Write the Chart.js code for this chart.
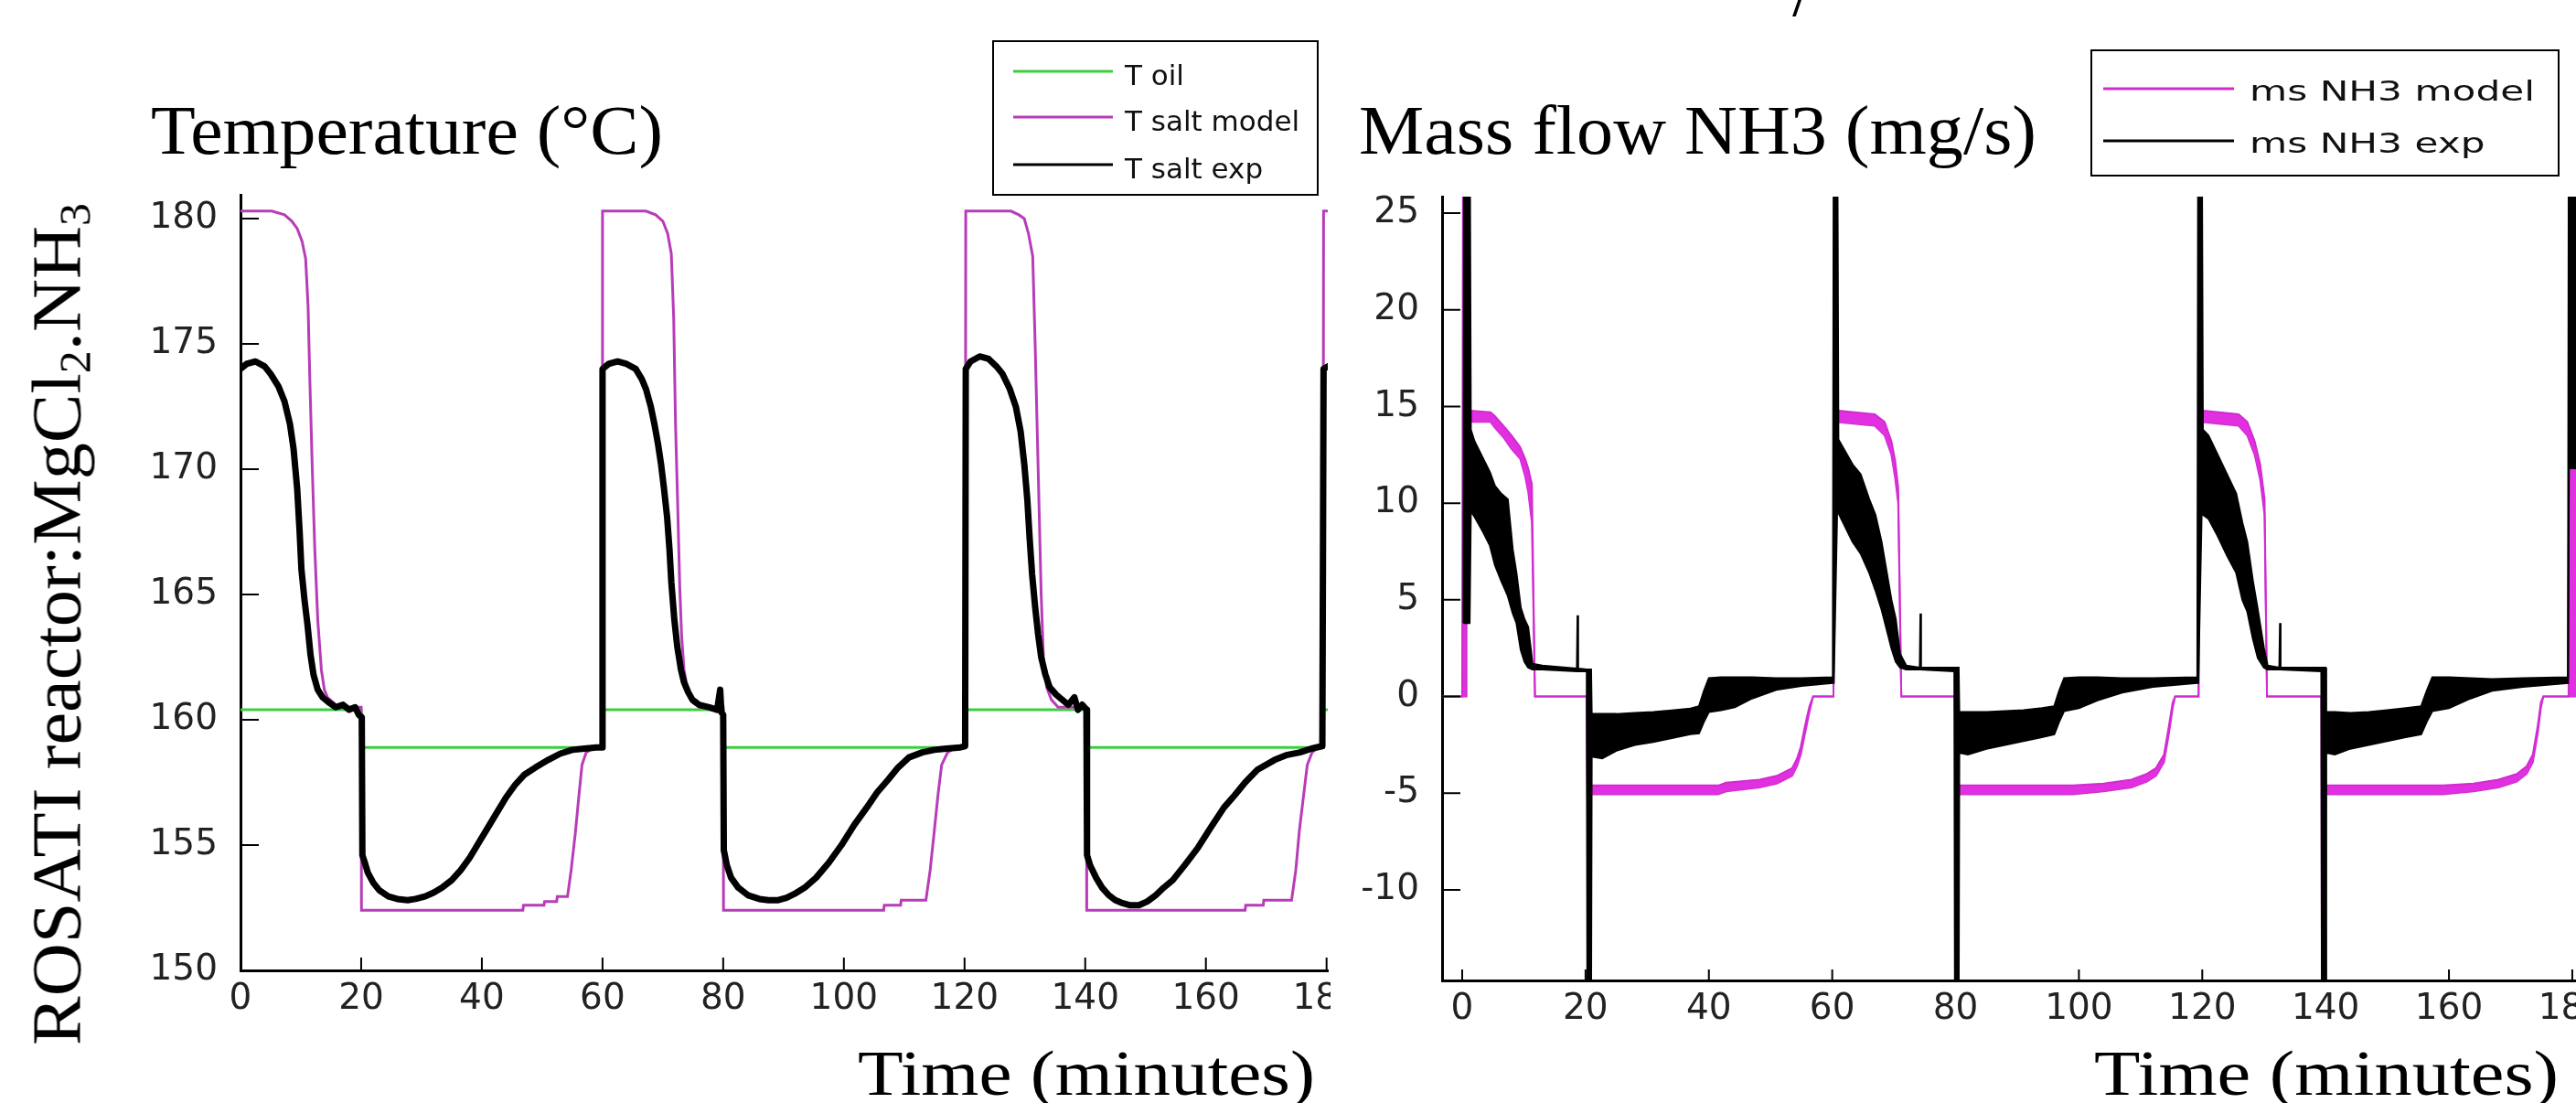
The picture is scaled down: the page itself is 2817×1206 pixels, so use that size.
<!DOCTYPE html>
<html><head><meta charset="utf-8">
<script src="https://cdn.jsdelivr.net/npm/chart.js@4/dist/chart.umd.min.js"></script>
<style>
html,body{margin:0;padding:0;background:#fff;}
body{width:2817px;height:1206px;overflow:hidden;position:relative;}
#w1{position:absolute;left:0;top:0;width:1500px;height:1206px;}
#w2{position:absolute;left:1455px;top:0;width:1410px;height:1206px;background:#fff;}
.lbl{position:absolute;white-space:nowrap;font-family:'Liberation Serif',serif;color:#000;line-height:1;transform-origin:0 0;z-index:5;}
.sb{font-size:0.62em;position:relative;top:0.22em;}
</style></head><body>
<div id="w1"><canvas id="c1"></canvas></div>
<div id="w2"><canvas id="c2"></canvas></div>
<script>
// ---------- Temperature panel (minutes, °C) ----------
const tempXTicks = [0,20,40,60,80,100,120,140,160,180];
const tempYTicks = [150,155,160,165,170,175,180];
const oilT = [0,20,20,60,60,80,80,120,120,140,140,179.5,179.5,181];
const oilV = [160.4,160.4,158.9,158.9,160.4,160.4,158.9,158.9,160.4,160.4,158.9,158.9,160.4,160.4];
const saltModelT = [0,5.2,7.3,8.5,9.4,10.2,10.8,11.2,11.5,11.9,12.3,12.8,13.4,13.9,14.4,15.8,17,20,
 20.05,46.8,46.9,50.3,50.4,52.4,52.5,54.2,54.8,55.5,56.1,56.6,57.3,58.7,59.9,
 60,67.2,68.8,70,70.8,71.4,71.8,72.1,72.5,72.8,73.1,73.5,74.1,74.9,76,80,
 80.05,106.6,106.7,109.4,109.5,113.6,114.3,115,115.6,116.2,117.2,118.5,120.1,
 120.2,127.7,129,129.9,130.6,131.3,131.7,132,132.4,132.7,133.1,133.6,134.4,135.5,140.2,
 140.25,166.5,166.6,169.5,169.6,174.2,174.9,175.5,176.2,176.8,177.6,178.6,179.4,179.5,181];
const saltModelV = [180.3,180.3,180.15,179.9,179.6,179.1,178.4,176.5,173.5,170,166.9,164,162,161.2,160.9,160.6,160.5,160.5,
 152.4,152.4,152.6,152.6,152.75,152.75,152.95,152.95,154,155.5,157,158.2,158.7,158.9,158.9,
 180.3,180.3,180.15,179.9,179.4,178.6,176,171.8,168.2,165.3,163.4,162,161.2,160.7,160.5,160.5,
 152.4,152.4,152.6,152.6,152.8,152.8,154,155.6,157,158.2,158.7,158.9,158.9,
 180.3,180.3,180.15,180,179.4,178.5,175,172,168,165,162.3,161.3,160.8,160.5,160.5,
 152.4,152.4,152.6,152.6,152.8,152.8,154,155.6,157,158.2,158.7,158.9,158.9,180.3,180.3];
const saltExpT = [0,1,2.5,4,5,6.3,7.3,8.2,8.8,9.4,9.8,10.1,10.6,11.1,11.6,12.1,12.8,13.6,14.6,15.8,17,18,19,19.6,20.1,
 20.2,20.6,21.1,22,23,24.5,26,27.7,29,30.6,32,33.4,35,36.5,38,39.5,41,42.5,44,45.5,47,48.9,51,53,55,57,59,59.9,
 60,61,62.5,64,65.5,66.5,67.2,68,68.6,69.2,69.7,70.2,70.7,71.1,71.4,71.9,72.4,73,73.5,74.2,74.9,76,77.7,79,79.5,79.7,80,
 80.1,80.6,81.3,82.5,84.1,86,87.5,89,90.5,91.8,93.5,95.4,97.5,99.6,101.7,103.8,105.5,107.3,109,110.8,113,115,117,119.3,120.1,
 120.2,121,122.5,124,125.3,126.3,127.5,128.5,129.3,129.9,130.4,130.8,131.2,131.7,132.2,132.7,133.4,134.1,135.2,136.2,137.2,138.2,138.8,139.5,140.2,
 140.3,140.8,141.8,142.8,143.9,145,146,147.5,148.9,150.3,151.7,153,154.5,156.5,158.7,160.8,163,164.8,166.5,168.5,171.4,173.5,175.6,177.5,179.3,179.5,181];
const saltExpV = [174.0,174.2,174.3,174.1,173.8,173.3,172.7,171.8,170.8,169.2,167.5,166.0,164.8,163.8,162.6,161.8,161.2,160.9,160.7,160.5,160.6,160.4,160.5,160.2,160.1,
 154.6,154.3,153.9,153.5,153.2,152.95,152.85,152.8,152.85,152.95,153.1,153.3,153.6,154.0,154.5,155.1,155.7,156.3,156.9,157.4,157.8,158.1,158.4,158.65,158.8,158.85,158.9,158.9,
 174.0,174.2,174.3,174.2,174.0,173.6,173.2,172.5,171.8,171.0,170.2,169.2,168.1,166.8,165.5,164.0,162.9,162.0,161.5,161.1,160.8,160.6,160.5,160.4,161.2,160.3,160.2,
 154.8,154.2,153.7,153.3,153.0,152.85,152.8,152.8,152.9,153.05,153.3,153.7,154.3,155.0,155.8,156.5,157.1,157.6,158.1,158.5,158.7,158.8,158.85,158.9,158.95,
 174.0,174.3,174.5,174.4,174.1,173.8,173.2,172.5,171.5,170.2,168.8,167.2,165.8,164.5,163.4,162.5,161.8,161.3,161.0,160.8,160.6,160.9,160.4,160.6,160.4,
 154.6,154.2,153.7,153.3,153.0,152.8,152.7,152.6,152.6,152.75,153.0,153.3,153.6,154.2,154.9,155.7,156.5,157.0,157.5,158.0,158.4,158.6,158.7,158.85,158.95,174.0,174.2];

// ---------- Mass flow panel (minutes, mg/s) ----------
const flowXTicks = [0,20,40,60,80,100,120,140,160,180];
const flowYTicks = [-10,-5,0,5,10,15,20,25];
const flowModelT  = [-3.5,0,0.15,0.6,0.7,4.6,5.3,6.7,8,9.4,10.2,10.7,11.3,11.8,20.2,20.3,41.5,42.8,48.2,51,53.5,54.3,54.9,55.6,56.3,56.9,60.2,
 60.4,66.9,68.5,69.6,70.2,70.7,71.2,79.9,80,99,104,108.5,111,112.5,113.8,114.6,115.2,115.6,119.4,
 119.6,125.9,127.3,128.5,129.4,130.1,130.5,139.3,139.4,139.9,140,159,164,168,171,172.6,173.6,174.4,174.9,175.3,179.3,179.4,181];
const flowModelHi = [0,0,32,32,14.8,14.7,14.5,14.0,13.5,12.9,12.3,11.8,11.0,0,0,-4.6,-4.6,-4.45,-4.3,-4.1,-3.7,-3.2,-2.6,-1.5,-0.5,0,0,
 14.8,14.6,14.2,13.2,12.2,10.8,0,0,-4.6,-4.6,-4.5,-4.3,-4.0,-3.7,-3.0,-1.5,-0.3,0,0,
 14.8,14.6,14.2,13.2,12.0,10.2,0,0,0,0,-4.6,-4.6,-4.5,-4.3,-4.0,-3.6,-3.0,-1.5,-0.3,0,0,32,32];
const flowModelLo = [0,0,0,0,14.2,14.2,13.9,13.4,12.8,12.3,11.4,10.6,9.0,0,0,-5.05,-5.05,-4.9,-4.7,-4.5,-4.1,-3.6,-3.0,-1.9,-0.8,0,0,
 14.2,14.0,13.5,12.5,11.3,10.0,0,0,-5.05,-5.05,-4.9,-4.7,-4.4,-4.1,-3.4,-1.9,-0.6,0,0,
 14.2,14.0,13.5,12.5,11.2,9.4,0,0,-16,-16,-5.05,-5.05,-4.9,-4.7,-4.4,-4.0,-3.4,-1.9,-0.6,0,0,0,0];
const flowExpT  = [0.2,0.3,1.2,1.4,2,3.4,4.5,5.3,6.3,7.4,8.2,8.8,9.5,10.1,10.7,11.4,13,18.6,18.7,18.8,20.2,20.3,20.9,
 21,22.7,25,28,31,34,37,38.4,39.2,40,42,44.2,47,50.9,55,60.1,
 60.25,60.8,61,63.3,64.6,66,67,68,68.8,69.6,70.3,71,72,74.2,74.3,74.4,79.8,79.9,80.5,
 80.6,82,85,88,91,94,96,96.8,97.6,100,103,107,112,119.2,
 119.35,119.9,120.1,121,122.5,124,125.5,126.5,127.3,128.2,129,130,130.6,132.5,132.6,132.7,139.3,139.4,140,
 140.1,141.5,144,147,150,153,155.5,156.4,157.3,160,163.5,167,172,179.3,179.45,181];
const flowExpHi = [3.8,32,32,13.8,13.2,12.3,11.6,10.9,10.5,10.2,7.6,6.4,4.6,4.0,3.6,1.7,1.6,1.45,4.2,1.45,1.4,1.4,1.4,
 -0.9,-0.9,-0.9,-0.85,-0.8,-0.72,-0.62,-0.5,0.3,0.95,1.0,1.0,1.0,0.95,0.95,1.0,
 32,32,13.3,12.0,11.5,10.2,9.4,8.0,6.5,5.0,4.0,2.2,1.6,1.5,4.3,1.5,1.5,1.5,1.5,
 -0.8,-0.8,-0.8,-0.75,-0.7,-0.6,-0.5,0.3,0.95,1.0,1.0,0.95,0.95,1.0,
 32,32,13.8,13.5,12.5,11.5,10.5,9.0,8.0,6.0,4.5,2.5,1.6,1.5,3.8,1.5,1.5,1.5,1.5,
 -0.8,-0.8,-0.85,-0.8,-0.7,-0.6,-0.5,0.3,1.0,1.0,0.95,0.9,0.95,1.0,32,32];
const flowExpLo = [3.8,3.8,3.8,9.6,9.3,8.5,7.8,6.8,6.0,5.2,4.3,3.8,2.4,1.8,1.5,1.4,1.4,1.3,1.3,1.3,1.3,-16,-16,
 -3.1,-3.2,-2.8,-2.5,-2.35,-2.15,-1.95,-1.9,-1.3,-0.8,-0.7,-0.55,-0.1,0.35,0.55,0.7,
 0.7,9.6,9.5,8.0,7.4,6.4,5.5,4.5,3.5,2.5,1.8,1.5,1.4,1.4,1.4,1.4,1.3,-16,-16,
 -2.9,-3.0,-2.7,-2.5,-2.3,-2.1,-1.95,-1.3,-0.75,-0.6,-0.2,0.2,0.5,0.7,
 0.7,9.5,9.4,9.2,8.3,7.3,6.4,5.0,4.4,3.0,2.0,1.5,1.4,1.4,1.4,1.4,1.3,-16,-16,
 -2.9,-3.0,-2.7,-2.5,-2.3,-2.1,-1.95,-1.3,-0.75,-0.6,-0.1,0.3,0.5,0.7,11.8,11.8];

const pts = (xs, ys) => xs.map((x, i) => ({x, y: ys[i]}));

// ---------- plugins ----------
const inwardTicks = {
  id: 'inwardTicks',
  afterDatasetsDraw(chart, args, o) {
    const {ctx, chartArea: a, scales} = chart;
    ctx.save();
    ctx.strokeStyle = '#000'; ctx.lineWidth = o.width;
    ctx.beginPath();
    scales.x.ticks.forEach(t => { const p = scales.x.getPixelForValue(t.value); ctx.moveTo(p, a.bottom); ctx.lineTo(p, a.bottom - o.xLen); });
    scales.y.ticks.forEach(t => { const p = scales.y.getPixelForValue(t.value); ctx.moveTo(a.left, p); ctx.lineTo(a.left + o.yLen, p); });
    ctx.stroke();
    ctx.restore();
  }
};
const boxLegend = {
  id: 'boxLegend',
  afterDraw(chart, args, o) {
    const ctx = chart.ctx;
    const items = chart.data.datasets.filter(d => d.label);
    ctx.save();
    ctx.fillStyle = '#fff'; ctx.fillRect(o.x, o.y, o.w, o.h);
    ctx.strokeStyle = '#000'; ctx.lineWidth = o.border; ctx.strokeRect(o.x, o.y, o.w, o.h);
    ctx.font = o.font;
    let longest = 0;
    items.forEach(d => { longest = Math.max(longest, ctx.measureText(d.label).width); });
    const sx = o.textWidth ? o.textWidth / longest : 1;
    items.forEach((d, i) => {
      const b = o.rows[i];
      ctx.strokeStyle = d.borderColor; ctx.lineWidth = o.lineWidth;
      ctx.beginPath(); ctx.moveTo(o.lineX0, b - o.lineUp); ctx.lineTo(o.lineX1, b - o.lineUp); ctx.stroke();
      ctx.save();
      ctx.translate(o.textX, b); ctx.scale(sx, 1);
      ctx.fillStyle = '#111'; ctx.textBaseline = 'alphabetic'; ctx.textAlign = 'left';
      ctx.fillText(d.label, 0, 0);
      ctx.restore();
    });
    ctx.restore();
  }
};

const tickFont = {family: 'DejaVu Sans', size: 39};
function axes(xmin, xmax, xticks, ymin, ymax, yticks, yw, xh) {
  return {
    x: {type: 'linear', min: xmin, max: xmax,
        afterBuildTicks: s => { s.ticks = xticks.map(v => ({value: v})); },
        afterFit: s => { s.height = xh; },
        grid: {display: false, drawTicks: false},
        border: {display: true, color: '#000', width: 3},
        ticks: {font: tickFont, color: '#222', padding: 8, maxRotation: 0, autoSkip: false}},
    y: {type: 'linear', min: ymin, max: ymax,
        afterBuildTicks: s => { s.ticks = yticks.map(v => ({value: v})); },
        afterFit: s => { s.width = yw; },
        grid: {display: false, drawTicks: false},
        border: {display: true, color: '#000', width: 3},
        ticks: {font: tickFont, color: '#222', padding: 25, autoSkip: false}}
  };
}

Chart.register(inwardTicks, boxLegend);

new Chart(document.getElementById('c1'), {
  type: 'line',
  data: {datasets: [
    {label: 'T oil', data: pts(oilT, oilV), borderColor: '#3ccf3c', borderWidth: 3, order: 2, fill: false},
    {label: 'T salt model', data: pts(saltModelT, saltModelV), borderColor: '#b83cb8', borderWidth: 3, order: 1, fill: false},
    {label: 'T salt exp', data: pts(saltExpT, saltExpV), borderColor: '#000', borderWidth: 7, order: 0, fill: false, borderJoinStyle: 'round'}
  ]},
  options: {
    animation: false, responsive: true, maintainAspectRatio: false,
    layout: {padding: {left: 153, right: 48, top: 213, bottom: 85}},
    elements: {point: {radius: 0}, line: {tension: 0}},
    datasets: {line: {clip: 0}},
    plugins: {legend: {display: false}, tooltip: {enabled: false},
      inwardTicks: {width: 2, xLen: 14, yLen: 20},
      boxLegend: {x: 1086, y: 45, w: 355, h: 168, border: 2, rows: [93, 143, 195], lineUp: 15,
                  lineX0: 1108, lineX1: 1217, lineWidth: 3, textX: 1230, font: '31px "DejaVu Sans"'}},
    scales: axes(0, 180.2, tempXTicks, 150, 180.95, tempYTicks, 110, 60)
  }
});

new Chart(document.getElementById('c2'), {
  type: 'line',
  data: {datasets: [
    {label: 'ms NH3 model', data: pts(flowModelT, flowModelHi), borderColor: '#d02cd0', backgroundColor: '#e030e0', borderWidth: 2, order: 1, fill: '+1'},
    {data: pts(flowModelT, flowModelLo), borderColor: '#d02cd0', borderWidth: 2, order: 1, fill: false},
    {label: 'ms NH3 exp', data: pts(flowExpT, flowExpHi), borderColor: '#000', backgroundColor: '#000', borderWidth: 2, order: 0, fill: '+1'},
    {data: pts(flowExpT, flowExpLo), borderColor: '#000', borderWidth: 2, order: 0, fill: false}
  ]},
  options: {
    animation: false, responsive: true, maintainAspectRatio: false,
    layout: {padding: {left: 22, right: 48, top: 215, bottom: 74}},
    elements: {point: {radius: 0}, line: {tension: 0}},
    datasets: {line: {clip: 0}},
    plugins: {legend: {display: false}, tooltip: {enabled: false},
      inwardTicks: {width: 2, xLen: 12, yLen: 20},
      boxLegend: {x: 832, y: 55, w: 511, h: 137, border: 2, rows: [110, 167], lineUp: 13,
                  lineX0: 845, lineX1: 988, lineWidth: 3, textX: 1005, textWidth: 312, font: '30px "DejaVu Sans"'}},
    scales: axes(-3.26, 180.6, flowXTicks, -14.68, 25.85, flowYTicks, 100, 60)
  }
});

// ---------- overlay text ----------
function addLabel(html, fs, left, baseline, width) {
  const d = document.createElement('div');
  d.className = 'lbl'; d.innerHTML = html; d.style.fontSize = fs + 'px';
  document.body.appendChild(d);
  const w = d.getBoundingClientRect().width;
  d.style.left = left + 'px'; d.style.top = (baseline - 0.8375 * fs) + 'px';
  if (width) d.style.transform = 'scaleX(' + (width / w) + ')';
}
function addVLabel(html, fs, capTopX, startY, length) {
  const d = document.createElement('div');
  d.className = 'lbl'; d.innerHTML = html; d.style.fontSize = fs + 'px';
  d.style.left = '0px'; d.style.top = '0px';
  document.body.appendChild(d);
  const w = d.getBoundingClientRect().width;
  const X = capTopX - 0.1755 * fs;
  d.style.transform = 'translate(' + X + 'px,' + startY + 'px) rotate(-90deg) scale(' + (length / w) + ',1)';
}
addLabel('Temperature (°C)', 77, 165, 168, 560);
addLabel('Mass flow NH3 (mg/s)', 77, 1486, 168, 741);
addLabel('Time (minutes)', 70, 938, 1198, 500);
addLabel('Time (minutes)', 70, 2290, 1198, 508);
addLabel('/', 77, 1960, 17, null);
addVLabel('ROSATI reactor:MgCl<span class="sb">2</span>.NH<span class="sb">3</span>', 77, 37, 1143, 921);
</script>
</body></html>
